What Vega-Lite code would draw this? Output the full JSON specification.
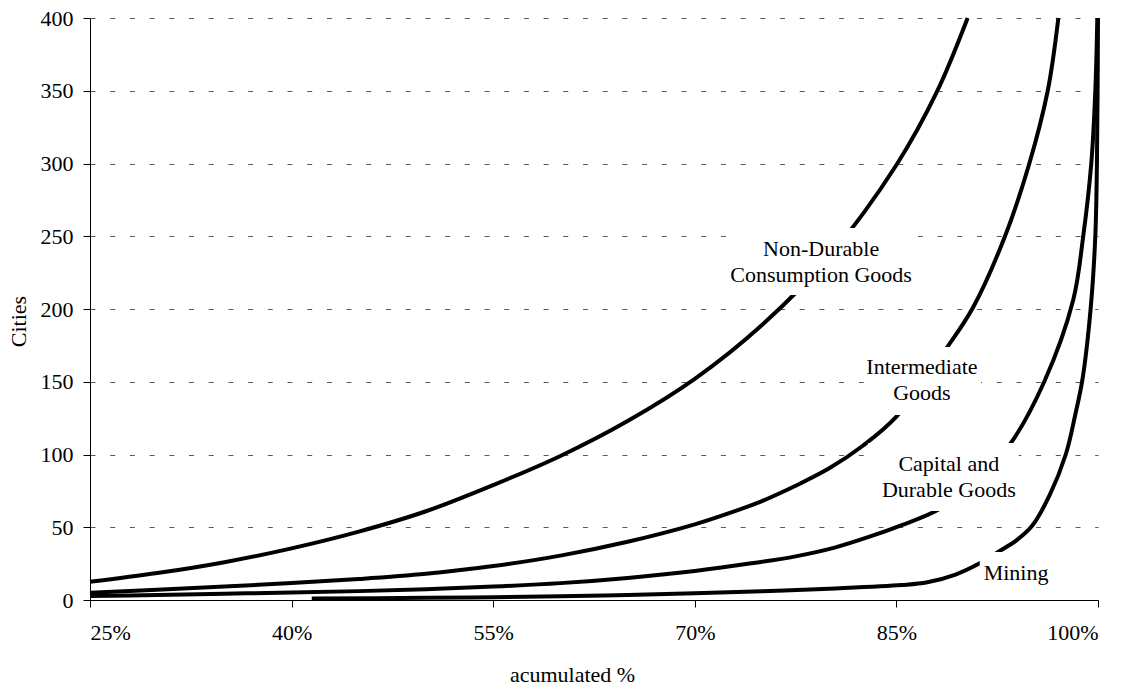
{
  "$schema": "https://vega.github.io/schema/vega-lite/v6.json",
  "width": 1008,
  "height": 582,
  "autosize": {"type": "none"},
  "padding": {"left": 90, "top": 18, "right": 31, "bottom": 86},
  "background": "white",
  "config": {
    "font": "Liberation Serif",
    "view": {"stroke": null},
    "axis": {
      "labelFont": "Liberation Serif",
      "titleFont": "Liberation Serif",
      "labelFontSize": 22,
      "titleFontSize": 22,
      "titleFontWeight": "normal",
      "labelColor": "black",
      "titleColor": "black",
      "domainColor": "black",
      "tickColor": "black",
      "domainWidth": 1,
      "tickWidth": 1,
      "tickSize": 7
    }
  },
  "datasets": {
    "curves": [
      {"sector": "Non-Durable", "pct": 25, "cities": 12.5},
      {"sector": "Non-Durable", "pct": 30, "cities": 18.5},
      {"sector": "Non-Durable", "pct": 35, "cities": 26},
      {"sector": "Non-Durable", "pct": 40, "cities": 35.5},
      {"sector": "Non-Durable", "pct": 45, "cities": 47},
      {"sector": "Non-Durable", "pct": 50, "cities": 61},
      {"sector": "Non-Durable", "pct": 55, "cities": 79},
      {"sector": "Non-Durable", "pct": 60, "cities": 99},
      {"sector": "Non-Durable", "pct": 65, "cities": 123},
      {"sector": "Non-Durable", "pct": 70, "cities": 152},
      {"sector": "Non-Durable", "pct": 75, "cities": 189},
      {"sector": "Non-Durable", "pct": 80, "cities": 236},
      {"sector": "Non-Durable", "pct": 85, "cities": 299},
      {"sector": "Non-Durable", "pct": 88, "cities": 349},
      {"sector": "Non-Durable", "pct": 90.3, "cities": 400},
      {"sector": "Intermediate", "pct": 25, "cities": 5},
      {"sector": "Intermediate", "pct": 30, "cities": 7},
      {"sector": "Intermediate", "pct": 35, "cities": 9.2},
      {"sector": "Intermediate", "pct": 40, "cities": 11.6},
      {"sector": "Intermediate", "pct": 45, "cities": 14.4},
      {"sector": "Intermediate", "pct": 50, "cities": 18},
      {"sector": "Intermediate", "pct": 55, "cities": 23.3},
      {"sector": "Intermediate", "pct": 60, "cities": 30.5},
      {"sector": "Intermediate", "pct": 65, "cities": 40},
      {"sector": "Intermediate", "pct": 70, "cities": 52},
      {"sector": "Intermediate", "pct": 72.5, "cities": 59.5},
      {"sector": "Intermediate", "pct": 75, "cities": 68},
      {"sector": "Intermediate", "pct": 77.5, "cities": 78.5},
      {"sector": "Intermediate", "pct": 80, "cities": 90.5},
      {"sector": "Intermediate", "pct": 82.5, "cities": 106},
      {"sector": "Intermediate", "pct": 85, "cities": 126},
      {"sector": "Intermediate", "pct": 88.8, "cities": 174},
      {"sector": "Intermediate", "pct": 90.7, "cities": 201},
      {"sector": "Intermediate", "pct": 93.08, "cities": 250},
      {"sector": "Intermediate", "pct": 94.89, "cities": 300},
      {"sector": "Intermediate", "pct": 96.26, "cities": 350},
      {"sector": "Intermediate", "pct": 97.05, "cities": 400},
      {"sector": "Capital", "pct": 25, "cities": 2.7},
      {"sector": "Capital", "pct": 30, "cities": 3.5},
      {"sector": "Capital", "pct": 35, "cities": 4.3},
      {"sector": "Capital", "pct": 40, "cities": 5.1},
      {"sector": "Capital", "pct": 45, "cities": 6.1},
      {"sector": "Capital", "pct": 50, "cities": 7.4},
      {"sector": "Capital", "pct": 55, "cities": 9.2},
      {"sector": "Capital", "pct": 60, "cities": 11.6},
      {"sector": "Capital", "pct": 65, "cities": 15.2},
      {"sector": "Capital", "pct": 70, "cities": 20},
      {"sector": "Capital", "pct": 74.2, "cities": 25.2},
      {"sector": "Capital", "pct": 77.5, "cities": 30},
      {"sector": "Capital", "pct": 80.4, "cities": 36},
      {"sector": "Capital", "pct": 83, "cities": 43.5},
      {"sector": "Capital", "pct": 85.4, "cities": 51.5},
      {"sector": "Capital", "pct": 88.1, "cities": 62},
      {"sector": "Capital", "pct": 91, "cities": 82},
      {"sector": "Capital", "pct": 93.5, "cities": 107.7},
      {"sector": "Capital", "pct": 96, "cities": 150},
      {"sector": "Capital", "pct": 98.15, "cities": 206},
      {"sector": "Capital", "pct": 98.9, "cities": 250},
      {"sector": "Capital", "pct": 99.5, "cities": 300},
      {"sector": "Capital", "pct": 99.8, "cities": 350},
      {"sector": "Capital", "pct": 99.95, "cities": 400},
      {"sector": "Mining", "pct": 41.5, "cities": 1},
      {"sector": "Mining", "pct": 50, "cities": 1.5},
      {"sector": "Mining", "pct": 55, "cities": 1.9},
      {"sector": "Mining", "pct": 60, "cities": 2.6},
      {"sector": "Mining", "pct": 65, "cities": 3.5},
      {"sector": "Mining", "pct": 70, "cities": 4.6},
      {"sector": "Mining", "pct": 75, "cities": 6},
      {"sector": "Mining", "pct": 80, "cities": 7.8},
      {"sector": "Mining", "pct": 85.4, "cities": 10.3},
      {"sector": "Mining", "pct": 87.3, "cities": 12.2},
      {"sector": "Mining", "pct": 89.4, "cities": 17.5},
      {"sector": "Mining", "pct": 91.2, "cities": 25.2},
      {"sector": "Mining", "pct": 92.6, "cities": 33.2},
      {"sector": "Mining", "pct": 94, "cities": 41.5},
      {"sector": "Mining", "pct": 95.1, "cities": 51},
      {"sector": "Mining", "pct": 96.4, "cities": 72},
      {"sector": "Mining", "pct": 97.6, "cities": 100},
      {"sector": "Mining", "pct": 98.3, "cities": 127},
      {"sector": "Mining", "pct": 98.85, "cities": 152},
      {"sector": "Mining", "pct": 99.45, "cities": 200},
      {"sector": "Mining", "pct": 99.8, "cities": 250},
      {"sector": "Mining", "pct": 99.92, "cities": 300},
      {"sector": "Mining", "pct": 99.97, "cities": 350},
      {"sector": "Mining", "pct": 100, "cities": 400}
    ],
    "boxes": [
      {"sector": "Non-Durable", "x0": 72.4, "x1": 86.6, "y0": 209.6, "y1": 255.7},
      {"sector": "Intermediate", "x0": 82.6, "x1": 91.3, "y0": 127.1, "y1": 173.9},
      {"sector": "Capital", "x0": 82.9, "x1": 94.1, "y0": 61.2, "y1": 107.9},
      {"sector": "Mining", "x0": 91.2, "x1": 96.5, "y0": 6.9, "y1": 33}
    ],
    "labels": [
      {"label": "Non-Durable\nConsumption Goods", "x": 79.4, "y": 241.2},
      {"label": "Intermediate\nGoods", "x": 86.9, "y": 159.8},
      {"label": "Capital and\nDurable Goods", "x": 88.9, "y": 93.8},
      {"label": "Mining", "x": 93.9, "y": 18.9}
    ]
  },
  "layer": [
    {
      "data": {"name": "curves"},
      "mark": {"type": "line", "interpolate": "catmull-rom", "strokeWidth": 4, "color": "black"},
      "encoding": {
        "x": {
          "field": "pct",
          "type": "quantitative",
          "scale": {"domain": [25, 100], "nice": false, "zero": false},
          "axis": {
            "values": [25, 40, 55, 70, 85, 100],
            "labelExpr": "datum.value + '%'",
            "title": "acumulated %",
            "grid": false,
            "labelPadding": 15,
            "titleX": 482,
            "titleY": 81,
            "titleBaseline": "alphabetic",
            "titleAnchor": null
          }
        },
        "y": {
          "field": "cities",
          "type": "quantitative",
          "scale": {"domain": [0, 400], "nice": false},
          "axis": {
            "values": [0, 50, 100, 150, 200, 250, 300, 350, 400],
            "title": "Cities",
            "grid": true,
            "gridColor": "#5a5a5a",
            "gridDash": [5, 14.7],
            "gridWidth": 1,
            "labelPadding": 10,
            "titleX": -72,
            "titleY": 303,
            "titleAngle": -90,
            "titleAlign": "center",
            "titleBaseline": "middle"
          }
        },
        "detail": {"field": "sector"}
      }
    },
    {
      "data": {"name": "boxes"},
      "mark": {"type": "rect", "fill": "white", "stroke": null},
      "encoding": {
        "x": {"field": "x0", "type": "quantitative"},
        "x2": {"field": "x1"},
        "y": {"field": "y0", "type": "quantitative"},
        "y2": {"field": "y1"}
      }
    },
    {
      "data": {"name": "labels"},
      "mark": {"type": "text", "font": "Liberation Serif", "fontSize": 22, "lineBreak": "\n", "lineHeight": 26, "baseline": "middle", "align": "center", "color": "black"},
      "encoding": {
        "x": {"field": "x", "type": "quantitative"},
        "y": {"field": "y", "type": "quantitative"},
        "text": {"field": "label"}
      }
    }
  ]
}
